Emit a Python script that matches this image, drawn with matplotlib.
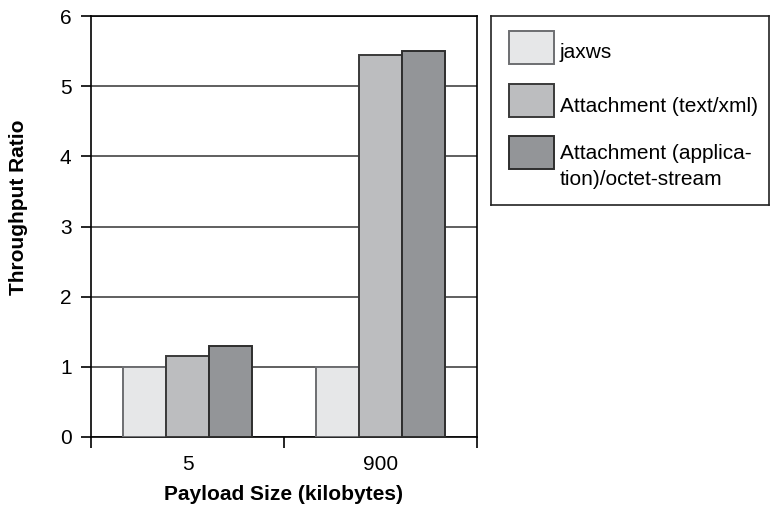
import numpy as np
import matplotlib
matplotlib.use('Agg')
import matplotlib.pyplot as plt
from matplotlib.patches import Rectangle

plt.rcParams['font.family'] = ['Liberation Sans', 'DejaVu Sans']

# data
categories = ['5', '900']
series = ['jaxws', 'Attachment (text/xml)', 'Attachment (applica-\ntion)/octet-stream']
jaxws = [1.0, 1.0]
att_text = [1.15, 5.44]
att_octet = [1.29, 5.50]
yticks = [0, 1, 2, 3, 4, 5, 6]

colors = ['#e6e7e8', '#bcbdbf', '#939598']
edges = ['#6d6e71', '#3a3a3a', '#2e2e2e']

W, H = 770, 505
fig = plt.figure(figsize=(W/100, H/100), dpi=100)
ax = fig.add_axes([91/W, 1-437/H, (477-91)/W, (437-16)/H])

x = np.arange(len(categories))
w = 0.222
for i, vals in enumerate([jaxws, att_text, att_octet]):
    ax.bar(x + (i-1)*w, vals, w, color=colors[i], edgecolor=edges[i], linewidth=1.4, zorder=3)

ax.set_xlim(-0.5, 1.5)
ax.set_ylim(0, 6)
ax.set_yticks(yticks)
ax.yaxis.grid(True, color='#444444', linewidth=1.2, zorder=0)
ax.set_axisbelow(True)

ax.set_xticks(x)
ax.set_xticklabels(categories)
ax.set_xticks([-0.5, 0.5, 1.5], minor=True)
ax.tick_params(axis='x', which='major', length=0, pad=13, labelsize=15)
ax.tick_params(axis='x', which='minor', length=8, width=1.2, direction='out')
ax.tick_params(axis='y', length=7, width=1.2, pad=7, labelsize=15)
for s in ax.spines.values():
    s.set_linewidth(1.2)

ax.set_xlabel('Payload Size (kilobytes)', fontsize=15, fontweight='bold')
ax.xaxis.set_label_coords(0.5, -0.114)
ax.set_ylabel('Throughput Ratio', fontsize=15, fontweight='bold')
ax.yaxis.set_label_coords(-0.163, 0.546)

# legend box drawn by hand (pixel units, y down)
lax = fig.add_axes([491/W, 1-205/H, (769-491)/W, (205-16)/H])
lax.set_xlim(491, 769)
lax.set_ylim(205, 16)
lax.set_xticks([])
lax.set_yticks([])
for s in lax.spines.values():
    s.set_linewidth(1.2)
    s.set_color('#222222')
hand_top = [31, 84, 136]
text_base = [58, 112, 185]   # baseline of last line
for i in range(3):
    lax.add_patch(Rectangle((509, hand_top[i]), 45, 33, facecolor=colors[i],
                            edgecolor=edges[i], linewidth=1.4))
    lax.text(560, text_base[i], series[i], fontsize=15, va='baseline', ha='left',
             linespacing=1.45)

plt.savefig('out.png', dpi=100)
plt.close()
